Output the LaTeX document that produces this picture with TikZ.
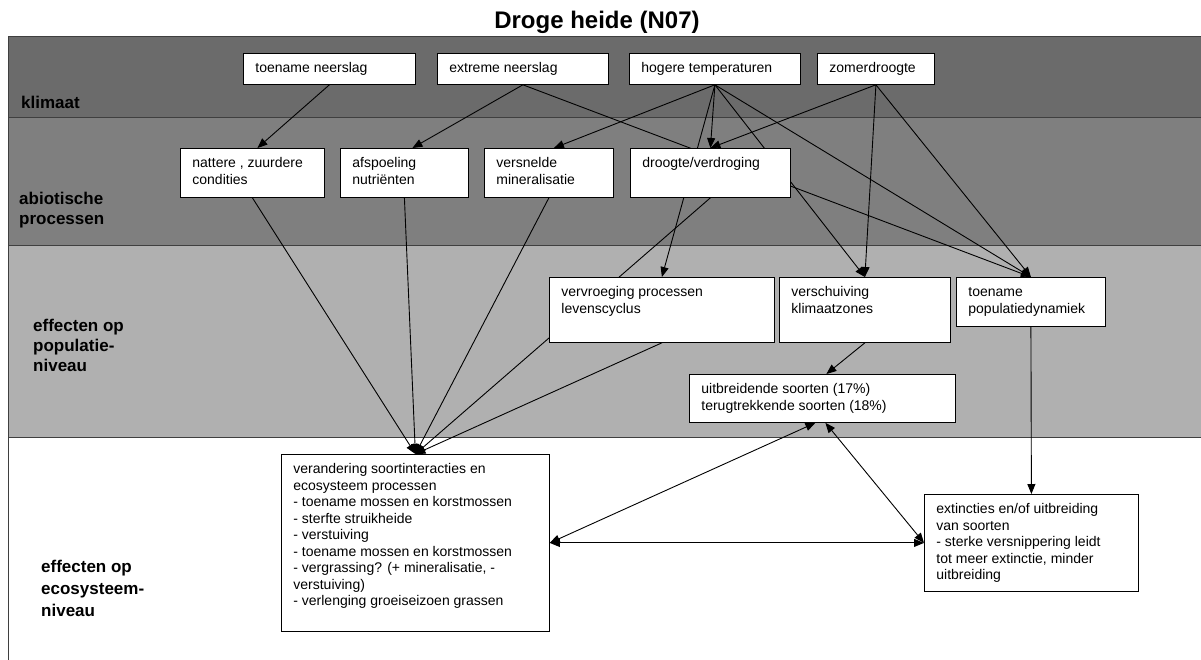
\documentclass[tikz,border=0pt]{standalone}
\usepackage{fontspec}
\setmainfont{Liberation Sans}
\usetikzlibrary{arrows.meta,calc}

\pgfdeclarelayer{bands}
\pgfdeclarelayer{links}
\pgfsetlayers{bands,links,main}

\definecolor{klimaatgrey}{HTML}{6B6B6B}
\definecolor{abiogrey}{HTML}{7F7F7F}
\definecolor{popgrey}{HTML}{B0B0B0}
\definecolor{edgegrey}{HTML}{3F3F3F}

% box text: width, height, lines (top left)
\newcommand{\cell}[3]{\parbox[c][\dimexpr#2pt-16pt\relax][t]{\dimexpr#1pt-24pt\relax}{\raggedright\strut#3}}

\tikzset{
  box/.style={draw=black, line width=0.8pt, fill=white, anchor=north west,
    inner xsep=12pt, inner ysep=8pt, font=\fontsize{14}{16.5}\selectfont},
  bandlabel/.style={anchor=north west, inner sep=0pt, align=left,
    font=\bfseries\fontsize{17}{20}\selectfont},
  bandline/.style={draw=edgegrey, line width=1pt},
  link/.style={line width=0.9pt, ->},
}

\begin{document}
\begin{tikzpicture}[x=1pt, y=-1pt, >={Triangle[length=10pt,width=8pt]}]
    \useasboundingbox (0,0) rectangle (1201,659);

    % Title
    \node[font=\bfseries\fontsize{24}{27}\selectfont, anchor=base] (title) at (597,28) {Droge heide (N07)};

    % Band labels
    \node[bandlabel] (lab-klim) at (21,96) {klimaat};
    \node[bandlabel] (lab-abio) at (19,192) {abiotische\\processen};
    \node[bandlabel] (lab-pop) at (33,319) {effecten op\\populatie-\\niveau};
    \node[bandlabel, font=\bfseries\fontsize{17}{22}\selectfont] (lab-eco) at (41,560) {effecten op\\ecosysteem-\\niveau};

    % Klimaat
    \node[box] (tn) at (243,53) {\cell{172}{31}{toename neerslag}};
    \node[box] (en) at (437,53) {\cell{171}{31}{extreme neerslag}};
    \node[box] (ht) at (629,53) {\cell{171}{31}{hogere temperaturen}};
    \node[box] (zd) at (817,53) {\cell{117}{31}{zomerdroogte}};

    % Abiotische processen
    \node[box] (nz) at (180,148) {\cell{144}{49}{nattere , zuurdere\\condities}};
    \node[box] (an) at (340,148) {\cell{128}{49}{afspoeling\\nutriënten}};
    \node[box] (vm) at (484,148) {\cell{129}{49}{versnelde\\mineralisatie}};
    \node[box] (dv) at (630,148) {\cell{160}{49}{droogte/verdroging}};

    % Populatieniveau
    \node[box] (vp) at (549,277) {\cell{225}{65}{vervroeging processen\\levenscyclus}};
    \node[box] (vk) at (779,277) {\cell{171}{65}{verschuiving\\klimaatzones}};
    \node[box] (tp) at (956,277) {\cell{149}{49}{toename\\populatiedynamiek}};
    \node[box] (us) at (689,374) {\cell{266}{48}{uitbreidende soorten (17\%)\\terugtrekkende soorten (18\%)}};

    % Ecosysteemniveau
    \node[box] (vs) at (281,454) {\cell{268}{177}{verandering soortinteracties en\\ecosysteem processen\\- toename mossen en korstmossen\\- sterfte struikheide\\- verstuiving\\- toename mossen en korstmossen\\- vergrassing? (+ mineralisatie, -\\verstuiving)\\- verlenging groeiseizoen grassen}};
    \node[box] (ex) at (924,494) {\cell{214}{97}{extincties en/of uitbreiding\\van soorten\\- sterke versnippering leidt\\tot meer extinctie, minder\\uitbreiding}};

    % Bands
    \begin{pgfonlayer}{bands}
        \fill[klimaatgrey] (8,36) rectangle (1215,117);
        \fill[abiogrey] (8,117) rectangle (1215,245);
        \fill[popgrey] (8,245) rectangle (1215,437);
        \draw[bandline] (1215,36) -- (8,36) -- (8,665);
        \foreach \y in {117,245,437}
            \draw[bandline] (8,\y) -- (1215,\y);
    \end{pgfonlayer}

    % Arrows
    \begin{pgfonlayer}{links}
        \draw[link] (tn.south) -- ($(nz.north)+(5,0)$);
        \draw[link] (en.south) -- ($(an.north)+(8,0)$);
        \draw[link] (en.south) -- (tp.north);
        \draw[link] (ht.south) -- ($(vm.north)+(5,0)$);
        \foreach \dst in {dv,vp,vk,tp}
            \draw[link] (ht.south) -- (\dst.north);
        \foreach \dst in {dv,vk,tp}
            \draw[link] (zd.south) -- (\dst.north);
        \foreach \src in {nz,an,vm,dv,vp}
            \draw[link] (\src.south) -- (vs.north);
        \draw[link] (vk.south) -- ($(us.north)+(4,0)$);
        \draw[link] (tp.south) -- (ex.north);
        \draw[link, <->] (vs.east) -- (ex.west);
        \draw[link, <->] (vs.east) -- ($(us.south)+(-7,0)$);
        \draw[link, <->] (ex.west) -- ($(us.south)+(3,0)$);
    \end{pgfonlayer}
\end{tikzpicture}
\end{document}
